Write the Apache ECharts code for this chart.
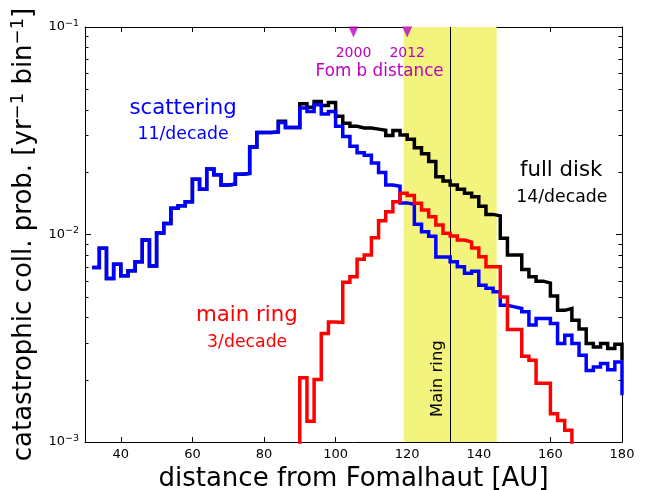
<!DOCTYPE html>
<html><head><meta charset="utf-8">
<script src="https://cdn.jsdelivr.net/npm/echarts@6/dist/echarts.min.js"></script>
<style>html,body{margin:0;padding:0;background:#fff}#c{width:647px;height:490px}</style>
</head><body><div id="c"></div>
<script>
// Bin left edges [AU] (2 AU bins); last entry closes the final bin
const binEdges = [32,34,36,38,40,42,44,46,48,50,52,54,56,58,60,62,64,66,68,70,72,74,76,78,80,82,84,86,88,90,92,94,96,98,100,102,104,106,108,110,112,114,116,118,120,122,124,126,128,130,132,134,136,138,140,142,144,146,148,150,152,154,156,158,160,162,164,166,168,170,172,174,176,178,180];
// catastrophic collision probability per bin
const scattering = [0.00694,0.00858,0.00614,0.00718,0.00632,0.00669,0.00739,0.0094,0.00705,0.01017,0.0113,0.01338,0.01377,0.0144,0.01848,0.01654,0.0207,0.01938,0.01734,0.01748,0.01954,0.0197,0.02638,0.03104,0.0310,0.0312,0.03467,0.0328,0.0328,
  0.0407,0.0392,0.0422,0.0381,0.0392,
  0.0332,0.0297,0.0266,0.0248,0.0241,0.0221,0.0199,0.0173,0.0171,0.0142,
  0.0140,0.0112,0.0103,0.0098,0.00779,0.00779,0.00739,0.00699,0.00650,0.00666,
  0.0057,0.0055,0.0053,0.00456,0.00448,0.0044,0.00424,0.00366,0.00394,0.00394,
  0.00372,0.00298,0.00327,0.00298,0.00262,0.00221,0.0023,0.00239,0.00223,0.00243,
  0.00168];
const fullDisk = [0.00694,0.00858,0.00614,0.00718,0.00632,0.00669,0.00739,0.0094,0.00705,0.01017,0.0113,0.01338,0.01377,0.0144,0.01848,0.01654,0.0207,0.01938,0.01734,0.01748,0.01954,0.0197,0.02638,0.03104,0.0310,0.0312,0.0351,0.0328,0.0328,
  0.0427,0.0411,0.0438,0.0419,0.0433,
  0.0371,0.0344,0.0332,0.0326,0.0326,0.0322,0.0318,0.0300,0.0317,0.0302,
  0.0288,0.0262,0.0245,0.0225,0.0190,0.0181,0.0173,0.0165,0.0158,0.0152,
  0.0137,0.0125,0.0123,0.00959,0.00796,0.00796,0.00679,0.00625,0.00596,0.00583,
  0.00505,0.00431,0.0044,0.00386,0.0035,0.00298,0.00287,0.00298,0.00282,0.00296,
  0.00248];
const mainRing = [null,null,null,null,null,null,null,null,null,null,null,null,null,null,null,null,null,null,null,null,null,null,null,null,null,null,null,null,
  0.0005,
  0.00204,0.00126,0.0020,0.00333,0.00379,
  0.00377,0.00588,0.00625,0.00759,0.00796,0.00965,0.01166,0.01288,0.0144,0.01582,
  0.01543,0.01415,0.01313,0.01219,0.0111,0.01013,0.00984,0.0094,0.0092,0.00862,
  0.00781,0.00699,0.00699,0.0050,0.00348,0.00348,0.00259,0.00248,0.00192,0.00192,
  0.00137,0.00127,0.00114,0.0007,0.0007,
  null,null,null,null,null,null];
const xTickValues = [40,60,80,100,120,140,160,180];
const minorTickValues = [0.002,0.003,0.004,0.005,0.006,0.007,0.008,0.009,0.02,0.03,0.04,0.05,0.06,0.07,0.08,0.09];
const ringBand = [119,145];
const ringCenter = 132;
const fomB = [105,120];
const fomBYears = ['2000','2012'];

const F = 'DejaVu Sans';
const MAG = '#bf00bf';
const pair = arr => binEdges.map((x,i)=>[x, arr[i]]);
const frame = {show:true,onZero:false,lineStyle:{color:'#000',width:1}};

const chart = echarts.init(document.getElementById('c'));
const lineSeries = (name, arr, color, z) => ({
  type:'line', name, data:pair(arr), step:'end', symbol:'none', showSymbol:false,
  connectNulls:false, clip:true, z, silent:true,
  lineStyle:{color, width:3.5, join:'miter', cap:'butt'}
});

chart.setOption({
  animation:false,
  grid:{left:85,right:25,top:27,bottom:48,outerBoundsMode:'none',containLabel:false},
  xAxis:[
    {type:'value',min:30,max:180,position:'bottom',axisLine:frame,
     axisTick:{show:true,inside:true,length:5,customValues:xTickValues,lineStyle:{color:'#000'}},
     axisLabel:{show:true,customValues:xTickValues,margin:6,color:'#000',fontFamily:F,fontSize:13},
     splitLine:{show:false},
     name:'distance from Fomalhaut [AU]',nameLocation:'middle',nameGap:22,
     nameTextStyle:{fontFamily:F,fontSize:26,color:'#000'}},
    {type:'value',min:30,max:180,position:'top',axisLine:frame,
     axisTick:{show:true,inside:true,length:5,customValues:xTickValues,lineStyle:{color:'#000'}},
     axisLabel:{show:false},splitLine:{show:false}}
  ],
  yAxis:[
    {type:'log',logBase:10,min:0.001,max:0.1,position:'left',axisLine:frame,
     axisTick:{show:true,inside:true,length:6,lineStyle:{color:'#000'}},
     axisLabel:{show:true,margin:6,
       formatter:v=>'{b|10}{s|\u2212'+Math.round(-Math.log10(v))+'}',
       rich:{b:{fontFamily:F,fontSize:13,color:'#000'},s:{fontFamily:F,fontSize:9.5,color:'#000',padding:[0,0,7,0]}}},
     splitLine:{show:false},
     name:'catastrophic coll. prob. [yr{s|\u22121} bin{s|\u22121}]',nameLocation:'middle',nameGap:46,
     nameTextStyle:{fontFamily:F,fontSize:26,color:'#000',
       rich:{s:{fontFamily:F,fontSize:18,color:'#000',padding:[0,0,12,0]}}}},
    {type:'log',logBase:10,min:0.001,max:0.1,position:'right',axisLine:frame,
     axisTick:{show:true,inside:true,length:6,lineStyle:{color:'#000'}},
     axisLabel:{show:false},splitLine:{show:false}}
  ],
  series:[
    {type:'custom',z:1,silent:true,xAxisIndex:0,yAxisIndex:0,
     data:[[ringBand[0],ringBand[1],ringCenter,0.01]],
     encode:{x:[0,1,2],y:3},
     renderItem:(p,api)=>{
       const a=api.coord([api.value(0),0.1]), b=api.coord([api.value(1),0.001]);
       const c=api.coord([api.value(2),0.1]), d=api.coord([api.value(2),0.001]);
       const xc=Math.round(c[0])+0.5;
       return {type:'group',children:[
         {type:'rect',shape:{x:a[0],y:a[1],width:b[0]-a[0],height:b[1]-a[1]},style:{fill:'#f2f47e'}},
         {type:'line',shape:{x1:xc,y1:c[1],x2:xc,y2:d[1]},style:{stroke:'#000',lineWidth:1}}
       ]};
     }},
    {type:'custom',z:10,silent:true,xAxisIndex:0,yAxisIndex:0,
     data:minorTickValues.map(v=>[30,v]),encode:{x:0,y:1},
     renderItem:(p,api)=>{
       const L=api.coord([30,api.value(1)]), R=api.coord([180,api.value(1)]);
       const y=Math.round(L[1])+0.5;
       return {type:'group',children:[
         {type:'line',shape:{x1:L[0],y1:y,x2:L[0]+3.5,y2:y},style:{stroke:'#000',lineWidth:1}},
         {type:'line',shape:{x1:R[0]-3.5,y1:y,x2:R[0],y2:y},style:{stroke:'#000',lineWidth:1}}
       ]};
     }},
    lineSeries('full disk', fullDisk, '#000000', 3),
    lineSeries('scattering', scattering, '#0000ff', 4),
    lineSeries('main ring', mainRing, '#ff0000', 5),
    {type:'scatter',z:6,silent:true,symbol:'triangle',symbolRotate:180,symbolSize:[10,11],
     itemStyle:{color:MAG},data:fomB.map(x=>[x,0.0946])}
  ]
});

// annotations placed through the chart's own coordinate conversion
const notes = [
  [57.4,0.0404,'scattering','#0000ff',21.3,0],
  [57.4,0.0303,'11/decade','#0000ff',17.3,0],
  [163.0,0.0203,'full disk','#000000',21.3,0],
  [163.2,0.01513,'14/decade','#000000',17.3,0],
  [75.2,0.00405,'main ring','#ff0000',21.3,0],
  [75.3,0.00301,'3/decade','#ff0000',17.3,0],
  [fomB[0],0.0750,fomBYears[0],MAG,14,0],
  [fomB[1],0.0750,fomBYears[1],MAG,14,0],
  [112.3,0.0607,'Fom b distance',MAG,16.8,0],
  [128.5,0.00202,'Main ring','#000000',16.5,Math.PI/2]
];
chart.setOption({
  graphic: notes.map(n => {
    const p = chart.convertToPixel({gridIndex:0}, [n[0], n[1]]);
    return {type:'text', x:p[0], y:p[1], rotation:n[5], z:100, silent:true,
      style:{text:n[2], fill:n[3], font:n[4]+'px "'+F+'"', align:'center', verticalAlign:'middle'}};
  })
});
</script></body></html>
